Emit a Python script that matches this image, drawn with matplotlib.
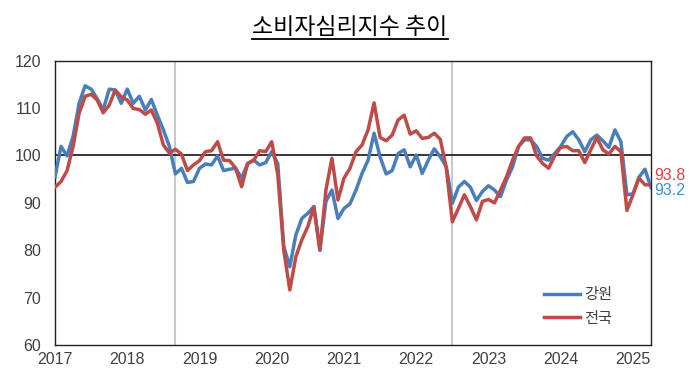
import matplotlib
matplotlib.use("Agg")
import matplotlib.pyplot as plt
import numpy as np

plt.rcParams['font.family'] = ['Liberation Sans', 'Noto Sans CJK KR', 'DejaVu Sans']

# monthly index, Jan 2017 .. Apr 2025
gangwon = [95.5, 101.9, 99.9, 104.0, 111.0, 114.7, 114.0, 112.0, 109.6, 114.0,
           113.8, 111.0, 114.0, 111.0, 112.5, 109.6, 111.8, 108.5, 105.4, 101.9,
           96.1, 97.3, 94.3, 94.5, 97.3, 98.2, 98.0, 99.9, 96.8, 97.1,
           97.3, 95.2, 98.3, 99.0, 98.0, 98.5, 100.8, 98.3, 80.8, 76.5,
           83.2, 86.7, 87.8, 89.2, 80.0, 90.3, 92.7, 86.7, 88.8, 89.8,
           92.7, 96.2, 99.0, 104.7, 99.7, 96.1, 96.8, 100.4, 101.2, 97.6,
           100.1, 96.2, 99.0, 101.4, 99.7, 97.6, 89.9, 93.3, 94.5, 93.3,
           90.5, 92.4, 93.6, 92.7, 91.3, 94.8, 97.6, 101.9, 103.3, 103.3,
           101.9, 99.4, 99.0, 100.4, 101.9, 104.0, 105.0, 103.3, 100.8, 103.3,
           104.3, 103.1, 101.7, 105.4, 102.9, 91.7, 91.9, 95.4, 97.1, 93.2]
national = [93.3, 94.5, 96.8, 101.9, 108.9, 112.5, 112.9, 111.7, 109.0, 110.6,
            113.8, 112.4, 111.7, 109.9, 109.7, 108.7, 109.6, 106.8, 102.2, 100.5,
            101.3, 100.3, 96.8, 98.0, 98.9, 100.8, 101.0, 102.9, 99.0, 98.9,
            97.3, 93.4, 98.3, 99.0, 101.0, 100.8, 102.9, 96.0, 80.0, 71.6,
            78.6, 82.2, 85.0, 89.2, 80.0, 92.7, 99.4, 90.6, 95.2, 97.3,
            100.8, 102.2, 105.4, 111.1, 103.8, 103.1, 104.3, 107.5, 108.5, 104.5,
            105.2, 103.6, 103.8, 104.7, 103.4, 97.3, 86.0, 88.8, 91.7, 89.2,
            86.4, 90.3, 90.7, 90.0, 92.7, 95.5, 99.0, 101.9, 103.7, 103.7,
            99.9, 98.3, 97.3, 99.9, 101.7, 101.9, 101.0, 101.0, 98.5, 101.2,
            103.8, 101.2, 100.3, 101.9, 100.8, 88.4, 91.7, 95.2, 93.8, 93.8]
years = ['2017', '2018', '2019', '2020', '2021', '2022', '2023', '2024', '2025']
marker_months = [20, 66]

blue = '#4a7ebb'
red = '#be4b48'

fig = plt.figure(figsize=(7, 3.77), dpi=100)
ax = fig.add_axes([0.0786, 0.085, 0.8514, 0.754])

x = np.arange(len(gangwon))
for m in marker_months:
    ax.axvline(m, color='#c8c8c8', lw=1.5, zorder=1)
ax.axhline(100, color='black', lw=1.1, zorder=2)
ax.plot(x, gangwon, color=blue, lw=2.5, label='강원', zorder=3)
ax.plot(x, national, color=red, lw=2.5, label='전국', zorder=4)

ax.set_xlim(0, len(gangwon) - 1)
ax.set_ylim(60, 120)
ax.set_yticks(range(60, 121, 10))
ax.set_xticks(np.arange(len(years)) * 12)
ax.set_xticklabels(years)
ax.tick_params(length=0, labelsize=11.5, labelcolor='#404040')
ax.tick_params(axis='x', pad=5)
ax.tick_params(axis='y', pad=10)
for s in ax.spines.values():
    s.set_color('#222222')
    s.set_linewidth(1.0)

ax.text(len(gangwon) - 0.4, national[-1] + 1.9, f'{national[-1]:.1f}', color='#d9434a',
        fontsize=11.5, va='center', ha='left')
ax.text(len(gangwon) - 0.4, gangwon[-1] - 0.7, f'{gangwon[-1]:.1f}', color='#3f8fd8',
        fontsize=11.5, va='center', ha='left')

ax.legend(loc='lower right', bbox_to_anchor=(0.958, 0.02), frameon=False, fontsize=11,
          handlelength=2.3, labelspacing=0.6, handletextpad=0.3, labelcolor='#404040')

# title with underline
title = fig.text(0.5, 0.928, '소비자심리지수 추이', ha='center', va='center', fontsize=16.5,
                 color='black', family=['Noto Sans CJK KR'])
fig.canvas.draw()
bb = title.get_window_extent().transformed(fig.transFigure.inverted())
fig.add_artist(plt.Line2D([bb.x0, bb.x1], [0.8966, 0.8966], color='black', lw=1.3))

fig.savefig('out.png', dpi=100)
